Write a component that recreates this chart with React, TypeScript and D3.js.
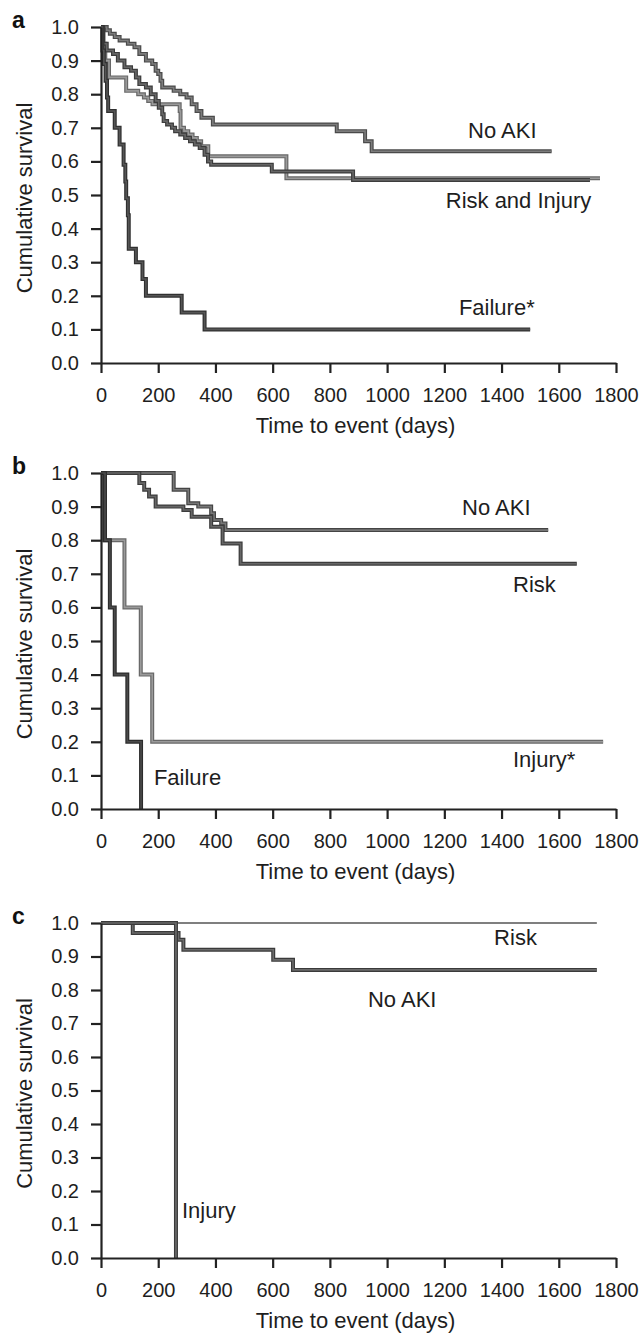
import * as d3 from "d3";
import { useEffect, useRef } from "react";

type Pt = [number, number];

// axis ticks shared by all three panels
const xTicks = [0, 200, 400, 600, 800, 1000, 1200, 1400, 1600, 1800];
const yTicks = [0, 0.1, 0.2, 0.3, 0.4, 0.5, 0.6, 0.7, 0.8, 0.9, 1.0];

// panel a: all patients
const noAkiA: Pt[] = [
  [0, 1], [20, 0.99], [31, 0.98], [48, 0.97], [65, 0.96], [94, 0.95], [117, 0.94],
  [134, 0.92], [157, 0.9], [179, 0.89], [191, 0.87], [200, 0.86], [208, 0.84],
  [214, 0.82], [254, 0.81], [277, 0.8], [299, 0.79], [317, 0.77], [334, 0.75],
  [351, 0.73], [391, 0.71], [824, 0.69], [923, 0.66], [946, 0.63], [1575, 0.63],
];
const riskA: Pt[] = [
  [0, 1], [8, 0.95], [15, 0.9], [28, 0.85], [88, 0.81], [130, 0.8], [150, 0.79],
  [165, 0.78], [180, 0.77], [275, 0.75], [278, 0.7], [290, 0.69], [305, 0.68],
  [320, 0.67], [335, 0.66], [350, 0.645], [375, 0.615], [648, 0.55], [1744, 0.55],
];
const injuryA: Pt[] = [
  [0, 1], [8, 0.95], [20, 0.93], [42, 0.92], [59, 0.9], [82, 0.88], [105, 0.87],
  [122, 0.85], [134, 0.83], [157, 0.82], [174, 0.8], [191, 0.78], [202, 0.76],
  [214, 0.74], [219, 0.72], [231, 0.71], [248, 0.7], [259, 0.69], [277, 0.68],
  [294, 0.67], [311, 0.66], [328, 0.65], [345, 0.64], [362, 0.62], [374, 0.6],
  [385, 0.59], [597, 0.57], [881, 0.545], [1709, 0.545],
];
const failureA: Pt[] = [
  [0, 1], [5, 0.93], [10, 0.89], [16, 0.84], [21, 0.79], [25, 0.75], [48, 0.7],
  [65, 0.65], [79, 0.59], [85, 0.54], [88, 0.49], [94, 0.44], [97, 0.34],
  [122, 0.3], [145, 0.25], [157, 0.2], [282, 0.15], [362, 0.1], [1500, 0.1],
];

// panel b
const noAkiB: Pt[] = [
  [0, 1], [254, 0.95], [305, 0.91], [340, 0.9], [385, 0.88], [395, 0.86],
  [420, 0.85], [435, 0.83], [1563, 0.83],
];
const riskB: Pt[] = [
  [0, 1], [134, 0.97], [151, 0.95], [168, 0.93], [191, 0.9], [288, 0.89],
  [317, 0.87], [385, 0.84], [425, 0.79], [488, 0.73], [1663, 0.73],
];
const injuryB: Pt[] = [[0, 1], [10, 0.8], [82, 0.6], [139, 0.4], [179, 0.2], [1755, 0.2]];
const failureB: Pt[] = [[0, 1], [14, 0.8], [31, 0.6], [48, 0.4], [92, 0.2], [140, 0], [140, 0]];

// panel c
const riskC: Pt[] = [[0, 1], [1733, 1]];
const noAkiC: Pt[] = [
  [0, 1], [111, 0.97], [271, 0.95], [288, 0.92], [602, 0.89], [671, 0.86], [1733, 0.86],
];
const injuryC: Pt[] = [[0, 1], [262, 0], [262, 0]];

// edge = dark rim of the scanned line, core = its lighter middle
const panels = [
  {
    tag: "a",
    top: 27,
    height: 336,
    series: [
      { data: noAkiA, edge: "#4a4a4a", core: "#7c7c7c", width: 4 },
      { data: riskA, edge: "#686868", core: "#9a9a9a", width: 4 },
      { data: injuryA, edge: "#3c3c3c", core: "#666", width: 4 },
      { data: failureA, edge: "#303030", core: "#555", width: 4 },
    ],
    labels: [
      { text: "No AKI", t: 1283, s: 0.669 },
      { text: "Risk and Injury", t: 1205, s: 0.46 },
      { text: "Failure*", t: 1251, s: 0.142 },
    ],
  },
  {
    tag: "b",
    top: 473,
    height: 336,
    series: [
      { data: noAkiB, edge: "#444", core: "#777", width: 4 },
      { data: riskB, edge: "#3c3c3c", core: "#666", width: 4 },
      { data: injuryB, edge: "#686868", core: "#9a9a9a", width: 4 },
      { data: failureB, edge: "#2c2c2c", core: "#4a4a4a", width: 4 },
    ],
    labels: [
      { text: "No AKI", t: 1262, s: 0.876 },
      { text: "Risk", t: 1440, s: 0.647 },
      { text: "Injury*", t: 1440, s: 0.126 },
      { text: "Failure", t: 185, s: 0.072 },
    ],
  },
  {
    tag: "c",
    top: 923,
    height: 335,
    series: [
      { data: riskC, edge: "#555", core: "#555", width: 1.6 },
      { data: noAkiC, edge: "#3a3a3a", core: "#6a6a6a", width: 4 },
      { data: injuryC, edge: "#3a3a3a", core: "#6a6a6a", width: 4 },
    ],
    labels: [
      { text: "Risk", t: 1374, s: 0.935 },
      { text: "No AKI", t: 933, s: 0.75 },
      { text: "Injury", t: 283, s: 0.12 },
    ],
  },
];

const App = () => {
  const svgRef = useRef<SVGSVGElement | null>(null);

  const width = 644;
  const height = 1333;
  const left = 101;
  const right = 616;
  const font = "'Liberation Sans', Arial, sans-serif";

  useEffect(() => {
    const svg = d3.select(svgRef.current);
    svg.selectAll("*").remove();

    const x = d3.scaleLinear().domain([0, 1800]).range([left, right]);

    panels.forEach((p) => {
      const y = d3.scaleLinear().domain([0, 1]).range([p.top + p.height, p.top]);
      const g = svg.append("g");

      // step curves
      const line = d3
        .line<Pt>()
        .x((d) => x(d[0]))
        .y((d) => y(d[1]))
        .curve(d3.curveStepAfter);

      p.series.forEach((s) => {
        g.append("path")
          .datum(s.data)
          .attr("d", line)
          .attr("fill", "none")
          .attr("stroke", s.edge)
          .attr("stroke-width", s.width);
        if (s.width > 2) {
          g.append("path")
            .datum(s.data)
            .attr("d", line)
            .attr("fill", "none")
            .attr("stroke", s.core)
            .attr("stroke-width", s.width * 0.4);
        }
      });

      // axes
      const yAxis = d3
        .axisLeft(y)
        .tickValues(yTicks)
        .tickFormat(d3.format(".1f"))
        .tickSize(10)
        .tickSizeOuter(0)
        .tickPadding(12);
      const xAxis = d3
        .axisBottom(x)
        .tickValues(xTicks)
        .tickFormat(d3.format("d"))
        .tickSize(10)
        .tickSizeOuter(0)
        .tickPadding(15);

      const ya = g.append("g").attr("transform", `translate(${left},0)`).call(yAxis);
      const xa = g.append("g").attr("transform", `translate(0,${p.top + p.height})`).call(xAxis);

      [ya, xa].forEach((a) => {
        a.selectAll("path, line").attr("stroke", "#222").attr("stroke-width", 2.2);
        a.selectAll("text")
          .attr("font-family", font)
          .attr("font-size", 20)
          .attr("fill", "#1e1e1e");
      });

      // curve labels
      p.labels.forEach((l) => {
        g.append("text")
          .attr("x", x(l.t))
          .attr("y", y(l.s))
          .attr("font-family", font)
          .attr("font-size", 22)
          .attr("fill", "#1e1e1e")
          .text(l.text);
      });

      // panel letter
      g.append("text")
        .attr("x", 12)
        .attr("y", p.top + 1)
        .attr("font-family", font)
        .attr("font-size", 23)
        .attr("font-weight", "bold")
        .attr("fill", "#111")
        .text(p.tag);

      // axis titles
      g.append("text")
        .attr("transform", `translate(32,${p.top + p.height / 2 + 3}) rotate(-90)`)
        .attr("text-anchor", "middle")
        .attr("font-family", font)
        .attr("font-size", 22)
        .attr("fill", "#1e1e1e")
        .text("Cumulative survival");

      g.append("text")
        .attr("x", (left + right) / 2 - 3)
        .attr("y", p.top + p.height + 70)
        .attr("text-anchor", "middle")
        .attr("font-family", font)
        .attr("font-size", 22)
        .attr("fill", "#1e1e1e")
        .text("Time to event (days)");
    });
  }, []);

  return (
    <svg
      ref={svgRef}
      width={width}
      height={height}
      style={{ position: "absolute", top: 0, left: 0, background: "#fff" }}
    />
  );
};

export default App;
